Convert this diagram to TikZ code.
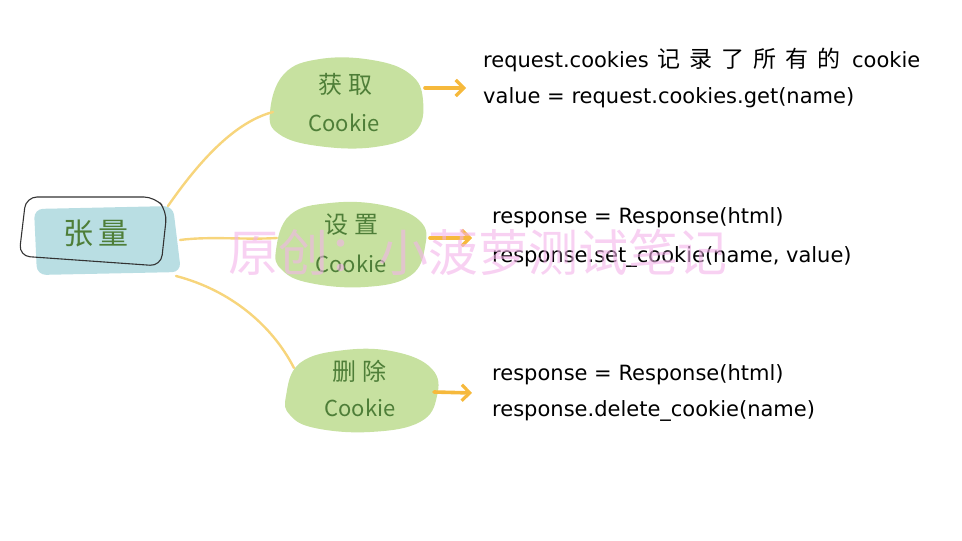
\documentclass[tikz,border=0pt]{standalone}
\usepackage{fontspec}
\setmainfont{Noto Sans CJK SC}
\newfontfamily\latinfont{DejaVu Sans}
\usetikzlibrary{arrows.meta}
\definecolor{rootfill}{HTML}{B9DEE3}
\definecolor{blobfill}{HTML}{C7E1A0}
\definecolor{greentxt}{HTML}{4E7E38}
\definecolor{branchcol}{HTML}{F7D57C}
\definecolor{arrcol}{HTML}{F6B93C}
\definecolor{wmcol}{HTML}{F3B3EA}
\newcommand{\cg}{\hspace{9pt}}
\tikzset{
  branch/.style={draw=branchcol, line width=2.4pt, line cap=round},
  arr/.style={draw=arrcol, line width=3.6pt, line cap=round, -{Straight Barb[length=8pt,width=16pt,line width=3.2pt]}},
  blob/.style={fill=blobfill},
  blobtxt/.style={text=greentxt, font=\fontsize{22}{24}\selectfont, inner sep=0pt},
  blobcjk/.style={text=greentxt, font=\fontsize{24}{26}\selectfont, inner sep=0pt},
  codetxt/.style={anchor=west, inner sep=0pt, font=\latinfont\fontsize{21}{23}\selectfont, text=black},
}
\begin{document}
\begin{tikzpicture}[x=1pt,y=-1pt]
\useasboundingbox (0,0) rectangle (962,541);
% root
\fill[rootfill, rounded corners=9pt] (34,209) -- (173,206) -- (181,272) -- (37,275) -- cycle;
\draw[black!80, line width=1.1pt, rounded corners=11pt] (26,197) -- (155,197) -- (167,211) -- (161,266) -- (19,256) -- cycle;
\node[text=greentxt, font=\fontsize{30}{32}\selectfont, inner sep=0pt] (root) at (96,233) {张\,量};
\coordinate (r1) at (168,206);
\coordinate (r2) at (180,240);
\coordinate (r3) at (176,276);
% blobs
\fill[blob] plot[smooth cycle, tension=0.7] coordinates {(270,112)(284,74)(320,59)(372,60)(410,74)(423,100)(415,132)(375,147)(318,146)(279,134)};
\fill[blob] plot[smooth cycle, tension=0.7] coordinates {(276,250)(290,215)(330,203)(382,205)(420,221)(425,247)(410,276)(365,287)(310,283)(282,270)};
\fill[blob] plot[smooth cycle, tension=0.7] coordinates {(286,396)(300,363)(345,350)(396,352)(432,369)(437,396)(420,422)(370,432)(315,428)(290,415)};
\node[blobcjk] (b1a) at (345,84) {获\hspace{6pt}取};
\node[blobtxt] (b1b) at (344,123) {Cookie};
\node[blobcjk] (b2a) at (351,225) {设\hspace{6pt}置};
\node[blobtxt] (b2b) at (351,264) {Cookie};
\node[blobcjk] (b3a) at (359,371) {删\hspace{6pt}除};
\node[blobtxt] (b3b) at (360,408) {Cookie};
\coordinate (b1w) at (273,112);
\coordinate (b2w) at (277,238);
\coordinate (b3w) at (294,368);
\coordinate (b1e) at (425,88);
\coordinate (b2e) at (430,238);
\coordinate (b3e) at (434,392);
% branches
\draw[branch] (r1) .. controls (200,160) and (235,122) .. (b1w);
\draw[branch] (r2) .. controls (210,236) and (245,240) .. (b2w);
\draw[branch] (r3) .. controls (230,290) and (272,325) .. (b3w);
% texts
\node[codetxt] (t1a) at (483,60) {request.cookies {\rmfamily\fontsize{23}{23}\selectfont\hspace{2pt}记\cg 录\cg 了\cg 所\cg 有\cg 的\hspace{5pt}} cookie};
\node[codetxt] (t1b) at (483,98) {value = request.cookies.get(name)};
\node[codetxt] (t2a) at (492,218) {response = Response(html)};
\node[codetxt] (t2b) at (492,257) {response.set\_cookie(name, value)};
\node[codetxt] (t3a) at (492,375) {response = Response(html)};
\node[codetxt] (t3b) at (492,411) {response.delete\_cookie(name)};
\coordinate (a1) at (466,88);
\coordinate (a2) at (472,238);
\coordinate (a3) at (472,393);
% arrows
\draw[arr] (b1e) -- (a1);
\draw[arr] (b2e) -- (a2);
\draw[arr] (b3e) -- (a3);
% watermark
\node[text=wmcol, opacity=0.6, font=\fontsize{50}{52}\selectfont, inner sep=0pt] (wm) at (478,252) {原创：小菠萝测试笔记};
\end{tikzpicture}
\end{document}
